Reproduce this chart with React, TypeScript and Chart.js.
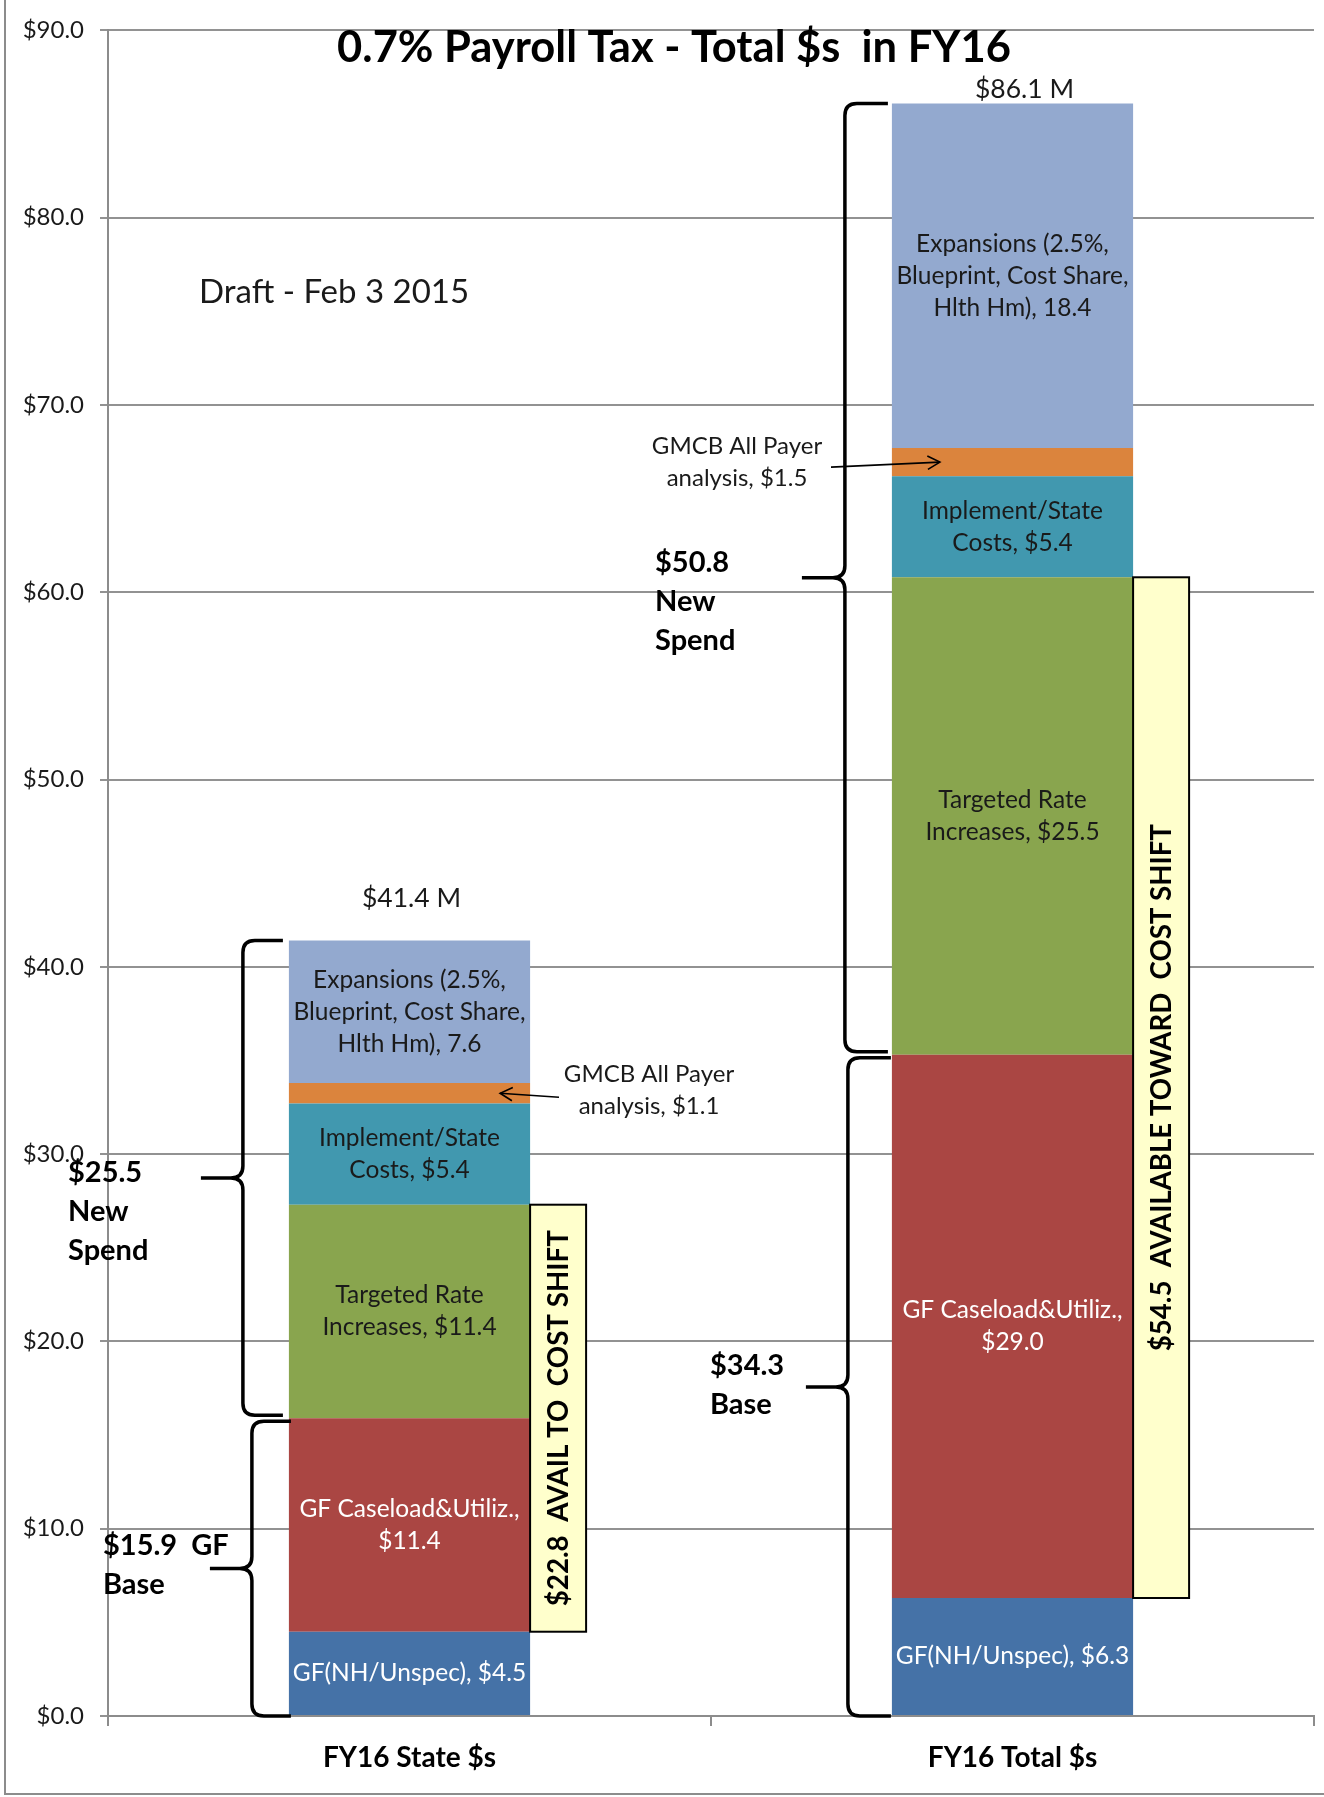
import React, { useEffect, useRef } from "react";
import { Chart, registerables } from "chart.js";

Chart.register(...registerables);

// ---------- data ----------
const categories = ["FY16 State $s", "FY16 Total $s"];
const gfNH = [4.5, 6.3];
const gfCaseload = [11.4, 29.0];
const targetedRate = [11.4, 25.5];
const implementState = [5.4, 5.4];
const gmcbAllPayer = [1.1, 1.5];
const expansions = [7.6, 18.4];
const totalLabels = ["$41.4 M", "$86.1 M"];
const yMin = 0;
const yMax = 90;
const yStep = 10;

const seriesNames = [
  "GF(NH/Unspec)",
  "GF Caseload&Utiliz.",
  "Targeted Rate Increases",
  "Implement/State Costs",
  "GMCB All Payer analysis",
  "Expansions (2.5%, Blueprint, Cost Share, Hlth Hm)",
];
const segmentLabels: string[][][] = [
  [["GF(NH/Unspec), $4.5"], ["GF(NH/Unspec), $6.3"]],
  [["GF Caseload&Utiliz.,", "$11.4"], ["GF Caseload&Utiliz.,", "$29.0"]],
  [["Targeted Rate", "Increases, $11.4"], ["Targeted Rate", "Increases, $25.5"]],
  [["Implement/State", "Costs, $5.4"], ["Implement/State", "Costs, $5.4"]],
  [[], []],
  [
    ["Expansions (2.5%,", "Blueprint, Cost Share,", "Hlth Hm), 7.6"],
    ["Expansions (2.5%,", "Blueprint, Cost Share,", "Hlth Hm), 18.4"],
  ],
];
const gmcbNotes = [
  ["GMCB All Payer", "analysis, $1.1"],
  ["GMCB All Payer", "analysis, $1.5"],
];
const costShiftFrom = [4.5, 6.3];
const costShiftTo = [27.3, 60.8];
const costShiftText = ["$22.8  AVAIL TO  COST SHIFT", "$54.5  AVAILABLE TOWARD  COST SHIFT"];
const braceBar = [0, 0, 1, 1];
const braceFrom = [15.9, 0, 35.3, 0];
const braceTo = [41.4, 15.9, 86.1, 35.3];
const braceText = [
  ["$25.5", "New", "Spend"],
  ["$15.9  GF", "Base"],
  ["$50.8", "New", "Spend"],
  ["$34.3", "Base"],
];
const titleText = "0.7% Payroll Tax - Total $s  in FY16";
const draftText = "Draft - Feb 3 2015";

// ---------- styles / layout ----------
const W = 1324;
const H = 1797;
const FONT = "Lato, 'Open Sans', sans-serif";
const seriesColors = ["#4572A7", "#AA4643", "#89A54E", "#4198AF", "#DB843D", "#93A9CF"];
const labelColors = ["#ffffff", "#ffffff", "#1a1a1a", "#1a1a1a", "#1a1a1a", "#1a1a1a"];
const braceLayout = [
  { end: -6, vert: -46, tip: -88, textX: 68, textDy: -5, gapTop: 0, gapBot: 3 },
  { end: 2, vert: -37, tip: -79, textX: 103, textDy: -23, gapTop: 3, gapBot: 0 },
  { end: -4, vert: -47, tip: -90, textX: 655, textDy: -15, gapTop: 0, gapBot: 3 },
  { end: -1, vert: -44, tip: -86, textX: 710, textDy: -21, gapTop: 3, gapBot: 0 },
];
const gmcbLayout = [
  { textX: 649, textDy: -19, arrowFromX: 559, arrowFromDy: 4, tipFromRight: -30 },
  { textX: 737, textDy: -16, arrowFromX: 831, arrowFromDy: 5, tipFromLeft: 48 },
];
const totalLayout = [
  { dx: 2, dy: -42 },
  { dx: 12, dy: -14 },
];

function drawBrace(
  ctx: CanvasRenderingContext2D,
  xe: number,
  xv: number,
  xt: number,
  yTop: number,
  yBot: number
) {
  const yMid = (yTop + yBot) / 2;
  const r = 12;
  const rt = 12;
  ctx.beginPath();
  ctx.moveTo(xe, yTop);
  ctx.lineTo(xv + r, yTop);
  ctx.quadraticCurveTo(xv, yTop, xv, yTop + r);
  ctx.lineTo(xv, yMid - rt);
  ctx.quadraticCurveTo(xv, yMid, xv - rt, yMid);
  ctx.lineTo(xt, yMid);
  ctx.moveTo(xv - rt, yMid);
  ctx.quadraticCurveTo(xv, yMid, xv, yMid + rt);
  ctx.lineTo(xv, yBot - r);
  ctx.quadraticCurveTo(xv, yBot, xv + r, yBot);
  ctx.lineTo(xe, yBot);
  ctx.stroke();
}

function drawArrow(ctx: CanvasRenderingContext2D, x1: number, y1: number, x2: number, y2: number) {
  ctx.beginPath();
  ctx.moveTo(x1, y1);
  ctx.lineTo(x2, y2);
  ctx.stroke();
  const a = Math.atan2(y2 - y1, x2 - x1);
  const len = 14;
  const spread = 0.5;
  ctx.beginPath();
  ctx.moveTo(x2 - len * Math.cos(a - spread), y2 - len * Math.sin(a - spread));
  ctx.lineTo(x2, y2);
  ctx.lineTo(x2 - len * Math.cos(a + spread), y2 - len * Math.sin(a + spread));
  ctx.stroke();
}

const annotationPlugin = {
  id: "payrollAnnotations",
  afterDatasetsDraw(chart: any) {
    const ctx: CanvasRenderingContext2D = chart.ctx;
    const yScale = chart.scales.y;
    const bars = (i: number) =>
      chart.getDatasetMeta(0).data[i].getProps(["x", "width"], true) as { x: number; width: number };

    ctx.save();
    // in-segment labels
    chart.data.datasets.forEach((_ds: any, di: number) => {
      const meta = chart.getDatasetMeta(di);
      meta.data.forEach((el: any, j: number) => {
        const p = el.getProps(["x", "y", "base"], true);
        const lines = segmentLabels[di][j];
        if (!lines.length) return;
        const lh = 32;
        const cy = (p.y + p.base) / 2;
        ctx.font = `24.5px ${FONT}`;
        ctx.fillStyle = labelColors[di];
        ctx.textAlign = "center";
        ctx.textBaseline = "middle";
        lines.forEach((ln, k) => {
          ctx.fillText(ln, p.x, cy + (k - (lines.length - 1) / 2) * lh, 236);
        });
      });
    });

    // totals above bars
    const lastMeta = chart.getDatasetMeta(chart.data.datasets.length - 1);
    lastMeta.data.forEach((el: any, j: number) => {
      const p = el.getProps(["x", "y"], true);
      ctx.font = `26.5px ${FONT}`;
      ctx.fillStyle = "#1a1a1a";
      ctx.textAlign = "center";
      ctx.textBaseline = "middle";
      ctx.fillText(totalLabels[j], p.x + totalLayout[j].dx, p.y + totalLayout[j].dy);
    });

    // cost shift boxes
    costShiftFrom.forEach((from, j) => {
      const b = bars(j);
      const x0 = b.x + b.width / 2;
      const x1 = x0 + 56;
      const yT = yScale.getPixelForValue(costShiftTo[j]);
      const yB = yScale.getPixelForValue(from);
      ctx.fillStyle = "#FFFFCC";
      ctx.fillRect(x0, yT, x1 - x0, yB - yT);
      ctx.strokeStyle = "#000";
      ctx.lineWidth = 2;
      ctx.strokeRect(x0, yT, x1 - x0, yB - yT);
      ctx.save();
      ctx.translate((x0 + x1) / 2, (yT + yB) / 2);
      ctx.rotate(-Math.PI / 2);
      ctx.font = `bold 28px ${FONT}`;
      ctx.fillStyle = "#000";
      ctx.textAlign = "center";
      ctx.textBaseline = "middle";
      ctx.fillText(costShiftText[j], 0, 1, j === 0 ? 376 : 527);
      ctx.restore();
    });

    // braces
    braceBar.forEach((bi, k) => {
      const b = bars(bi);
      const left = b.x - b.width / 2;
      const L = braceLayout[k];
      const yTop = yScale.getPixelForValue(braceTo[k]) + L.gapTop;
      const yBot = yScale.getPixelForValue(braceFrom[k]) - L.gapBot;
      ctx.strokeStyle = "#000";
      ctx.lineWidth = 3.5;
      ctx.lineCap = "butt";
      drawBrace(ctx, left + L.end, left + L.vert, left + L.tip, yTop, yBot);
      const tipY = (yTop + yBot) / 2;
      ctx.font = `bold 29px ${FONT}`;
      ctx.fillStyle = "#000";
      ctx.textAlign = "left";
      ctx.textBaseline = "middle";
      braceText[k].forEach((ln, i) => {
        ctx.fillText(ln, L.textX, tipY + L.textDy + i * 39);
      });
    });

    // GMCB notes with arrows
    gmcbNotes.forEach((lines, j) => {
      const el = chart.getDatasetMeta(4).data[j].getProps(["x", "y", "base", "width"], true);
      const cy = (el.y + el.base) / 2;
      const L: any = gmcbLayout[j];
      ctx.font = `24px ${FONT}`;
      ctx.fillStyle = "#1a1a1a";
      ctx.textAlign = "center";
      ctx.textBaseline = "middle";
      lines.forEach((ln, i) => ctx.fillText(ln, L.textX, cy + L.textDy + i * 32));
      const tipX =
        L.tipFromRight !== undefined ? el.x + el.width / 2 + L.tipFromRight : el.x - el.width / 2 + L.tipFromLeft;
      ctx.strokeStyle = "#000";
      ctx.lineWidth = 1.6;
      drawArrow(ctx, L.arrowFromX, cy + L.arrowFromDy, tipX, cy);
    });

    // title and draft note
    ctx.font = `bold 43.5px ${FONT}`;
    ctx.fillStyle = "#000";
    ctx.textAlign = "center";
    ctx.textBaseline = "middle";
    ctx.fillText(titleText, 674, 48);
    ctx.font = `33px ${FONT}`;
    ctx.fillStyle = "#1a1a1a";
    ctx.textAlign = "left";
    ctx.fillText(draftText, 199, 292);

    // outer frame
    ctx.strokeStyle = "#8c8c8c";
    ctx.lineWidth = 2;
    ctx.beginPath();
    ctx.moveTo(5, 0);
    ctx.lineTo(5, 1794);
    ctx.lineTo(W, 1794);
    ctx.stroke();
    ctx.restore();
  },
};

export default function App() {
  const canvasRef = useRef<HTMLCanvasElement | null>(null);

  useEffect(() => {
    if (!canvasRef.current) return;
    const seriesData = [gfNH, gfCaseload, targetedRate, implementState, gmcbAllPayer, expansions];
    const chart = new Chart(canvasRef.current, {
      type: "bar",
      data: {
        labels: categories,
        datasets: seriesData.map((d, i) => ({
          label: seriesNames[i],
          data: d,
          backgroundColor: seriesColors[i],
          borderWidth: 0,
          barPercentage: 0.4,
          categoryPercentage: 1,
        })),
      },
      options: {
        responsive: false,
        animation: false,
        devicePixelRatio: 1,
        layout: { padding: { top: 25, right: 10, left: 0, bottom: 0 } },
        plugins: {
          legend: { display: false },
          title: { display: false },
          tooltip: { enabled: false },
        },
        scales: {
          x: {
            stacked: true,
            grid: {
              offset: true,
              drawOnChartArea: false,
              drawTicks: true,
              tickLength: 10,
              color: "#8c8c8c",
              lineWidth: 2,
            },
            border: { color: "#8c8c8c", width: 2 },
            ticks: {
              color: "#000",
              padding: 15,
              font: { family: FONT, size: 28, weight: "bold" },
            },
            afterFit: (scale: any) => {
              scale.height = H - 1716;
            },
          },
          y: {
            stacked: true,
            min: yMin,
            max: yMax,
            ticks: {
              stepSize: yStep,
              color: "#1a1a1a",
              padding: 16,
              font: { family: FONT, size: 24 },
              callback: (v: any) => "$" + Number(v).toFixed(1),
            },
            grid: { color: "#929292", lineWidth: 2, tickLength: 8 },
            border: { color: "#8c8c8c", width: 2 },
            afterFit: (scale: any) => {
              scale.width = 108;
            },
          },
        },
      },
      plugins: [annotationPlugin],
    });
    return () => chart.destroy();
  }, []);

  return (
    <div style={{ position: "absolute", left: 0, top: 0, width: W, height: H, background: "#fff" }}>
      <canvas ref={canvasRef} width={W} height={H} style={{ display: "block" }} />
    </div>
  );
}
